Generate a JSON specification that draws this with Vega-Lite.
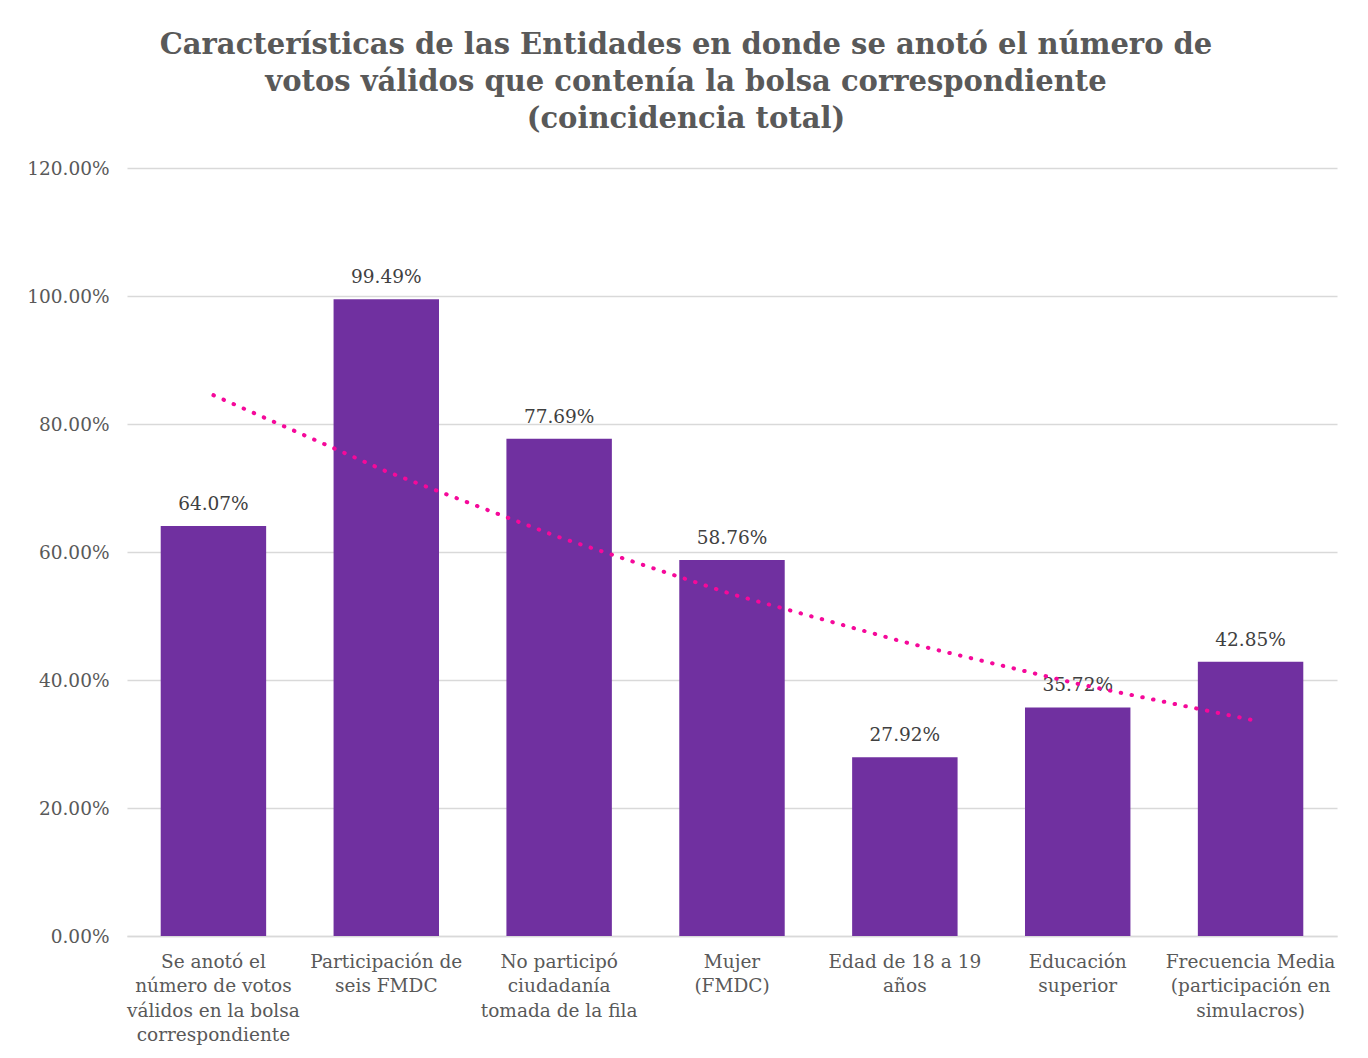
{
  "$schema": "https://vega.github.io/schema/vega-lite/v6.json",
  "autosize": "none",
  "width": 1210,
  "height": 768,
  "padding": {"left": 127, "top": 168, "right": 31, "bottom": 122},
  "background": "white",
  "title": {
    "text": ["Características de las Entidades en donde se anotó el número de", "votos válidos que contenía la bolsa correspondiente", "(coincidencia total)"],
    "anchor": "middle",
    "dx": -46,
    "offset": 25,
    "font": "DejaVu Serif",
    "fontSize": 29,
    "fontWeight": "bold",
    "color": "#595959",
    "lineHeight": 37
  },
  "config": {
    "view": {"stroke": null},
    "axis": {"labelFont": "DejaVu Serif", "labelColor": "#595959", "titleFont": "DejaVu Serif"}
  },
  "data": {
    "values": [
      {"cat": "Se anotó el\nnúmero de votos\nválidos en la bolsa\ncorrespondiente", "v": 64.07, "lbl": "64.07%", "trend": 84.5},
      {"cat": "Participación de\nseis FMDC", "v": 99.49, "lbl": "99.49%", "trend": 72.6},
      {"cat": "No participó\nciudadanía\ntomada de la fila", "v": 77.69, "lbl": "77.69%", "trend": 62.3},
      {"cat": "Mujer\n(FMDC)", "v": 58.76, "lbl": "58.76%", "trend": 53.4},
      {"cat": "Edad de 18 a 19\naños", "v": 27.92, "lbl": "27.92%", "trend": 45.9},
      {"cat": "Educación\nsuperior", "v": 35.72, "lbl": "35.72%", "trend": 39.4},
      {"cat": "Frecuencia Media\n(participación en\nsimulacros)", "v": 42.85, "lbl": "42.85%", "trend": 33.8}
    ]
  },
  "encoding": {
    "x": {
      "field": "cat", "type": "nominal", "sort": null,
      "scale": {"paddingInner": 0.39, "paddingOuter": 0.195},
      "axis": {
        "title": null, "labelAngle": 0, "labelExpr": "split(datum.label, '\\n')",
        "labelFontSize": 18.5, "labelLineHeight": 24.5, "labelPadding": 16,
        "ticks": false, "domainColor": "#d9d9d9", "domainWidth": 1.5, "labelBaseline": "top", "labelLimit": 220
      }
    }
  },
  "layer": [
    {
      "mark": {"type": "bar", "color": "#7030a0"},
      "encoding": {
        "y": {
          "field": "v", "type": "quantitative",
          "scale": {"domain": [0, 120]},
          "axis": {
            "title": null, "values": [0, 20, 40, 60, 80, 100, 120],
            "labelExpr": "format(datum.value, '.2f') + '%'",
            "labelFontSize": 18.5, "labelPadding": 18, "ticks": false, "domain": false,
            "gridColor": "#d9d9d9", "gridWidth": 1.5
          }
        }
      }
    },
    {
      "mark": {"type": "text", "baseline": "bottom", "dy": -12, "font": "DejaVu Serif", "fontSize": 18.5, "color": "#404040"},
      "encoding": {
        "y": {"field": "v", "type": "quantitative"},
        "text": {"field": "lbl"}
      }
    },
    {
      "mark": {"type": "line", "color": "#f5099a", "strokeWidth": 4, "strokeCap": "round", "strokeDash": [0.5, 10.5]},
      "encoding": {
        "y": {"field": "trend", "type": "quantitative"}
      }
    }
  ]
}
